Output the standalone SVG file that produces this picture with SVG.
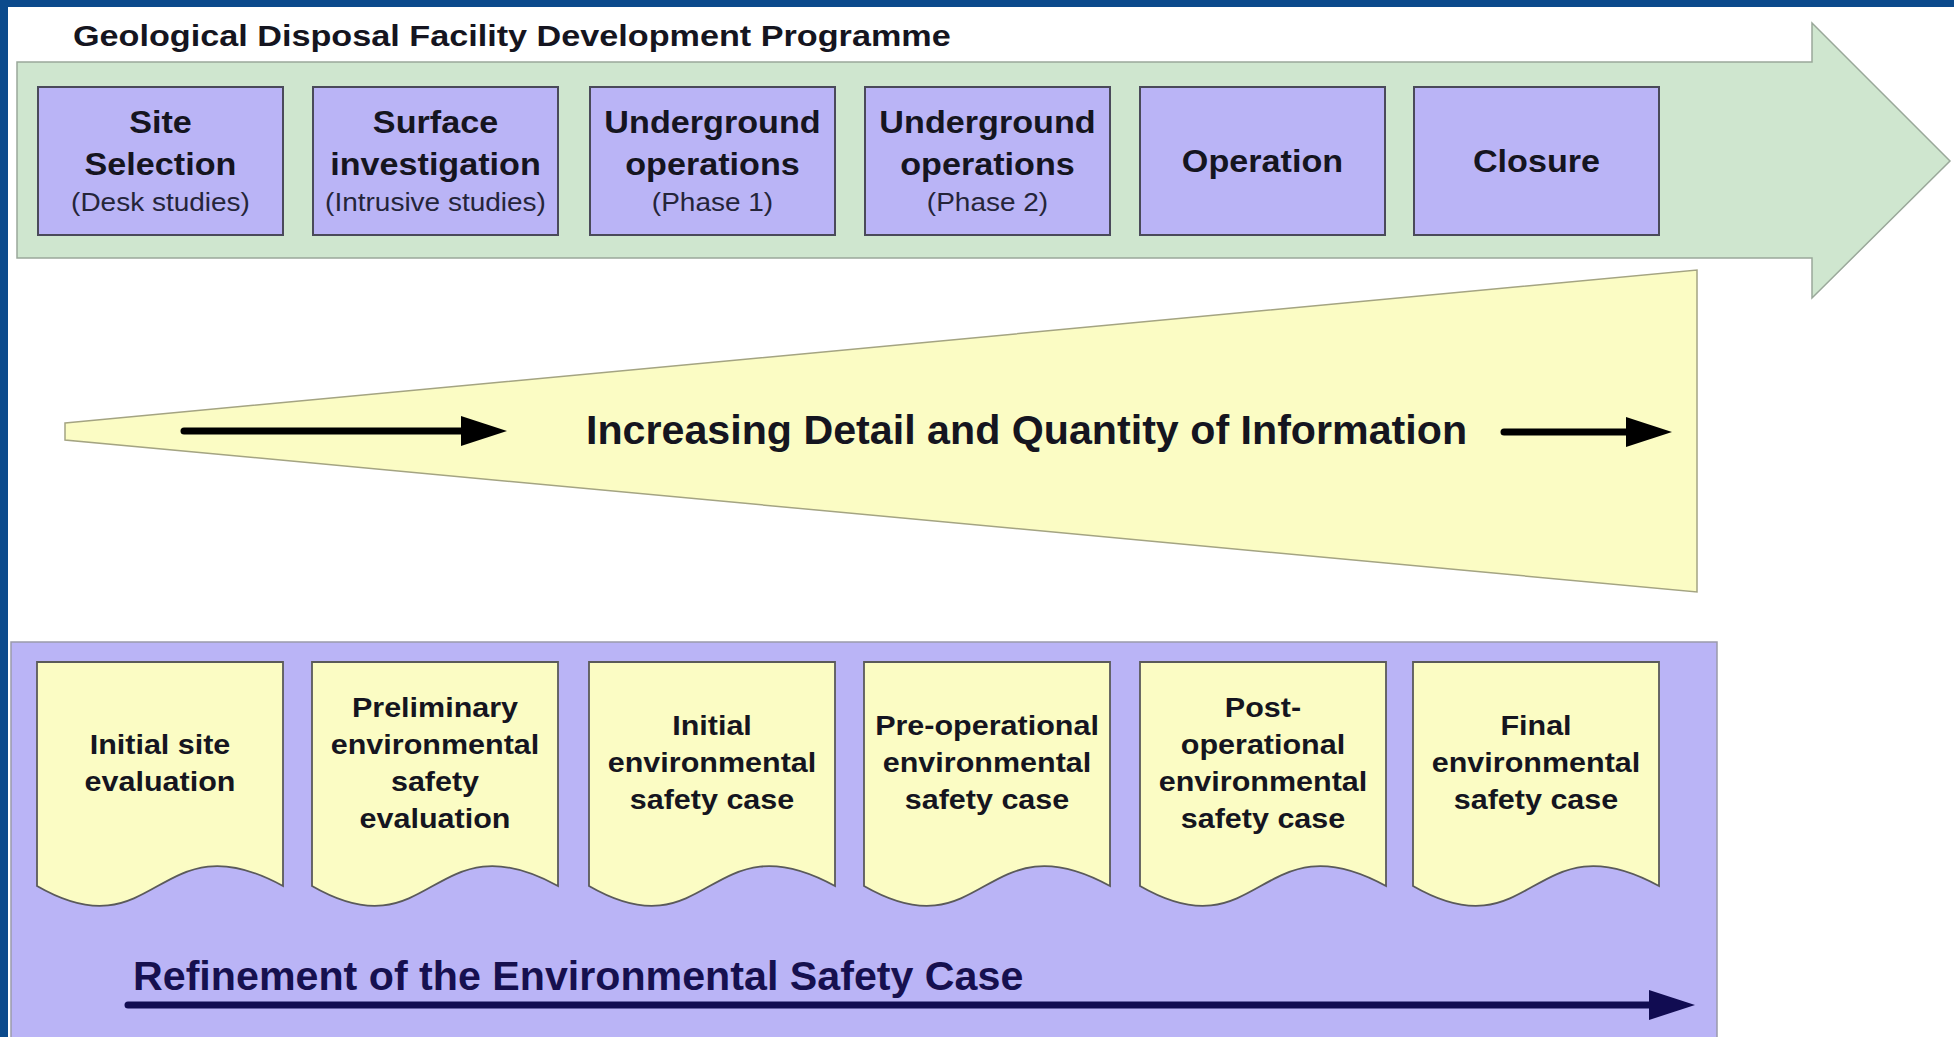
<svg xmlns="http://www.w3.org/2000/svg" width="1954" height="1037" viewBox="0 0 1954 1037">
<defs>
<style>
.frame{fill:#0b4a8c}
.green{fill:#cfe6cf;stroke:#9aa89a;stroke-width:1.5}
.box{fill:#bab4f6;stroke:#4a4a5a;stroke-width:2}
.doc{fill:#fbfcc4;stroke:#5a5a5a;stroke-width:1.8}
.panel{fill:#bab4f6;stroke:#9a9aaa;stroke-width:1.5}
.wedge{fill:#fbfcc4;stroke:#a4a482;stroke-width:1.5}
.b{font-family:"Liberation Sans",Arial,sans-serif;font-weight:bold;fill:#151520}
.r{font-family:"Liberation Sans",Arial,sans-serif;fill:#25253a}
.bt{font-size:30.5px;text-anchor:middle}
.st{font-size:25px;text-anchor:middle}
.dt{font-size:27px;text-anchor:middle}
.arr{stroke:#000;stroke-width:7;stroke-linecap:round;fill:none}
.arrn{stroke:#110c52;stroke-width:7;stroke-linecap:round;fill:none}
</style>
<marker id="headK" markerUnits="userSpaceOnUse" markerWidth="46" markerHeight="30" viewBox="0 0 46 30" refX="0" refY="15" orient="auto">
<path d="M0,0 L46,15 L0,30 Z" fill="#000"/>
</marker>
<marker id="headN" markerUnits="userSpaceOnUse" markerWidth="46" markerHeight="30" viewBox="0 0 46 30" refX="0" refY="15" orient="auto">
<path d="M0,0 L46,15 L0,30 Z" fill="#110c52"/>
</marker>
</defs>
<rect x="0" y="0" width="1954" height="1037" fill="#ffffff"/>

<g id="programme">
<polygon class="green" points="17,62 1812,62 1812,23 1950,161 1812,298 1812,258 17,258"/>
<g transform="translate(73 0) scale(1.14 1)"><text class="b" x="0" y="46" font-size="30">Geological Disposal Facility Development Programme</text></g>
</g>

<g id="site-selection">
<rect class="box" x="38" y="87" width="245" height="148"/>
<g transform="translate(160.5 0) scale(1.12 1)">
<text class="b bt" x="0" y="133">Site</text>
<text class="b bt" x="0" y="175">Selection</text>
<text class="r st" x="0" y="211">(Desk studies)</text>
</g>
</g>
<g id="surface-investigation">
<rect class="box" x="313" y="87" width="245" height="148"/>
<g transform="translate(435.5 0) scale(1.12 1)">
<text class="b bt" x="0" y="133">Surface</text>
<text class="b bt" x="0" y="175">investigation</text>
<text class="r st" x="0" y="211">(Intrusive studies)</text>
</g>
</g>
<g id="underground-1">
<rect class="box" x="590" y="87" width="245" height="148"/>
<g transform="translate(712.5 0) scale(1.12 1)">
<text class="b bt" x="0" y="133">Underground</text>
<text class="b bt" x="0" y="175">operations</text>
<text class="r st" x="0" y="211">(Phase 1)</text>
</g>
</g>
<g id="underground-2">
<rect class="box" x="865" y="87" width="245" height="148"/>
<g transform="translate(987.5 0) scale(1.12 1)">
<text class="b bt" x="0" y="133">Underground</text>
<text class="b bt" x="0" y="175">operations</text>
<text class="r st" x="0" y="211">(Phase 2)</text>
</g>
</g>
<g id="operation">
<rect class="box" x="1140" y="87" width="245" height="148"/>
<g transform="translate(1262.5 0) scale(1.12 1)">
<text class="b bt" x="0" y="172">Operation</text>
</g>
</g>
<g id="closure">
<rect class="box" x="1414" y="87" width="245" height="148"/>
<g transform="translate(1536.5 0) scale(1.12 1)">
<text class="b bt" x="0" y="172">Closure</text>
</g>
</g>

<g id="information-wedge">
<polygon class="wedge" points="65,423 1697,270 1697,592 65,440"/>
<text class="b" x="586" y="444" font-size="41.2">Increasing Detail and Quantity of Information</text>
</g>

<g id="safety-case-panel">
<rect class="panel" x="11" y="642" width="1706" height="400"/>
<text class="b" x="133" y="990" font-size="41.2" style="fill:#16104f">Refinement of the Environmental Safety Case</text>
</g>

<g id="doc-initial-site">
<path class="doc" d="M37,662 H283 V886 C157,817 157,955 37,886 Z"/>
<g transform="translate(160 0) scale(1.13 1)">
<text class="b dt" x="0" y="754">Initial site</text>
<text class="b dt" x="0" y="791">evaluation</text>
</g>
</g>
<g id="doc-preliminary">
<path class="doc" d="M312,662 H558 V886 C432,817 432,955 312,886 Z"/>
<g transform="translate(435 0) scale(1.13 1)">
<text class="b dt" x="0" y="717">Preliminary</text>
<text class="b dt" x="0" y="754">environmental</text>
<text class="b dt" x="0" y="791">safety</text>
<text class="b dt" x="0" y="828">evaluation</text>
</g>
</g>
<g id="doc-initial-esc">
<path class="doc" d="M589,662 H835 V886 C709,817 709,955 589,886 Z"/>
<g transform="translate(712 0) scale(1.13 1)">
<text class="b dt" x="0" y="735">Initial</text>
<text class="b dt" x="0" y="772">environmental</text>
<text class="b dt" x="0" y="809">safety case</text>
</g>
</g>
<g id="doc-pre-operational">
<path class="doc" d="M864,662 H1110 V886 C984,817 984,955 864,886 Z"/>
<g transform="translate(987 0) scale(1.13 1)">
<text class="b dt" x="0" y="735">Pre-operational</text>
<text class="b dt" x="0" y="772">environmental</text>
<text class="b dt" x="0" y="809">safety case</text>
</g>
</g>
<g id="doc-post-operational">
<path class="doc" d="M1140,662 H1386 V886 C1260,817 1260,955 1140,886 Z"/>
<g transform="translate(1263 0) scale(1.13 1)">
<text class="b dt" x="0" y="717">Post-</text>
<text class="b dt" x="0" y="754">operational</text>
<text class="b dt" x="0" y="791">environmental</text>
<text class="b dt" x="0" y="828">safety case</text>
</g>
</g>
<g id="doc-final">
<path class="doc" d="M1413,662 H1659 V886 C1533,817 1533,955 1413,886 Z"/>
<g transform="translate(1536 0) scale(1.13 1)">
<text class="b dt" x="0" y="735">Final</text>
<text class="b dt" x="0" y="772">environmental</text>
<text class="b dt" x="0" y="809">safety case</text>
</g>
</g>

<g id="connectors">
<line class="arr" x1="184" y1="431" x2="461" y2="431" marker-end="url(#headK)"/>
<line class="arr" x1="1504" y1="432" x2="1626" y2="432" marker-end="url(#headK)"/>
<line class="arrn" x1="128" y1="1005" x2="1649" y2="1005" marker-end="url(#headN)"/>
</g>

<g id="frame">
<rect class="frame" x="0" y="0" width="1954" height="7"/>
<rect class="frame" x="0" y="0" width="8" height="1037"/>
</g>
</svg>
